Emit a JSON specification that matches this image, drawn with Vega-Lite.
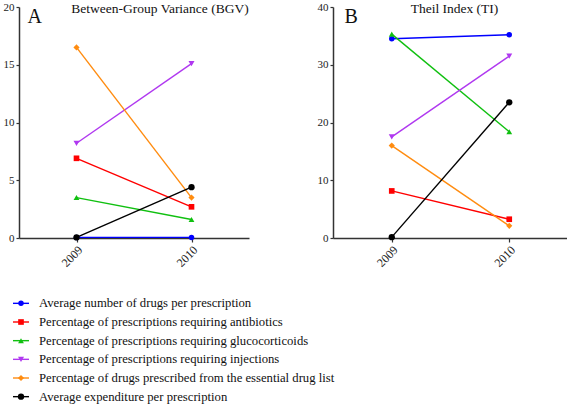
{
  "$schema": "https://vega.github.io/schema/vega-lite/v6.json",
  "padding": {"left": 3, "top": 1, "right": 0, "bottom": 0},
  "background": "white",
  "spacing": 25,
  "config": {
    "font": "Liberation Serif",
    "view": {"stroke": null},
    "axis": {
      "domainColor": "#333333",
      "domainWidth": 1.5,
      "tickColor": "#333333",
      "tickWidth": 1.2,
      "labelColor": "#222222",
      "labelFont": "Liberation Serif",
      "grid": false
    },
    "title": {"font": "Liberation Serif", "fontWeight": "normal", "color": "#111111"}
  },
  "datasets": {
    "points": [
      {"panel": "A", "series": "Average number of drugs per prescription", "year": "2009", "value": 0.05},
      {"panel": "A", "series": "Average number of drugs per prescription", "year": "2010", "value": 0.05},
      {"panel": "A", "series": "Percentage of prescriptions requiring antibiotics", "year": "2009", "value": 6.9},
      {"panel": "A", "series": "Percentage of prescriptions requiring antibiotics", "year": "2010", "value": 2.7},
      {"panel": "A", "series": "Percentage of prescriptions requiring glucocorticoids", "year": "2009", "value": 3.5},
      {"panel": "A", "series": "Percentage of prescriptions requiring glucocorticoids", "year": "2010", "value": 1.6},
      {"panel": "A", "series": "Percentage of prescriptions requiring injections", "year": "2009", "value": 8.2},
      {"panel": "A", "series": "Percentage of prescriptions requiring injections", "year": "2010", "value": 15.1},
      {"panel": "A", "series": "Percentage of drugs prescribed from the essential drug list", "year": "2009", "value": 16.5},
      {"panel": "A", "series": "Percentage of drugs prescribed from the essential drug list", "year": "2010", "value": 3.5},
      {"panel": "A", "series": "Average expenditure per prescription", "year": "2009", "value": 0.05},
      {"panel": "A", "series": "Average expenditure per prescription", "year": "2010", "value": 4.4},
      {"panel": "B", "series": "Average number of drugs per prescription", "year": "2009", "value": 34.5},
      {"panel": "B", "series": "Average number of drugs per prescription", "year": "2010", "value": 35.2},
      {"panel": "B", "series": "Percentage of prescriptions requiring antibiotics", "year": "2009", "value": 8.15},
      {"panel": "B", "series": "Percentage of prescriptions requiring antibiotics", "year": "2010", "value": 3.25},
      {"panel": "B", "series": "Percentage of prescriptions requiring glucocorticoids", "year": "2009", "value": 35.3},
      {"panel": "B", "series": "Percentage of prescriptions requiring glucocorticoids", "year": "2010", "value": 18.4},
      {"panel": "B", "series": "Percentage of prescriptions requiring injections", "year": "2009", "value": 17.5},
      {"panel": "B", "series": "Percentage of prescriptions requiring injections", "year": "2010", "value": 31.5},
      {"panel": "B", "series": "Percentage of drugs prescribed from the essential drug list", "year": "2009", "value": 16.0},
      {"panel": "B", "series": "Percentage of drugs prescribed from the essential drug list", "year": "2010", "value": 2.1},
      {"panel": "B", "series": "Average expenditure per prescription", "year": "2009", "value": 0.15},
      {"panel": "B", "series": "Average expenditure per prescription", "year": "2010", "value": 23.5}
    ],
    "legend": [
      {"series": "Average number of drugs per prescription"},
      {"series": "Percentage of prescriptions requiring antibiotics"},
      {"series": "Percentage of prescriptions requiring glucocorticoids"},
      {"series": "Percentage of prescriptions requiring injections"},
      {"series": "Percentage of drugs prescribed from the essential drug list"},
      {"series": "Average expenditure per prescription"}
    ]
  },
  "vconcat": [
    {
      "bounds": "flush",
      "spacing": 84,
      "hconcat": [
        {
          "width": 230,
          "height": 231,
          "data": {"name": "points"},
          "transform": [{"filter": "datum.panel === 'A'"}],
          "title": {"text": "Between-Group Variance (BGV)", "anchor": "middle", "dx": 26, "offset": -25, "fontSize": 13.5, "baseline": "alphabetic"},
          "encoding": {
            "x": {"field": "year", "type": "ordinal", "scale": {"type": "point", "padding": 0.5},
                  "axis": {"title": null, "labelAngle": -45, "labelFontSize": 12, "tickSize": 4, "labelPadding": 2}},
            "y": {"field": "value", "type": "quantitative", "scale": {"domain": [0, 20], "nice": false},
                  "axis": {"values": [0, 5, 10, 15, 20], "tickSize": 3, "labelFontSize": 11, "labelPadding": 2,
                           "title": "A", "titleAngle": 0, "titleX": 8, "titleY": 15, "titleAlign": "left", "titleBaseline": "alphabetic", "titleFontSize": 20, "titleFontWeight": "normal", "titleColor": "#111111"}},
            "color": {"field": "series", "type": "nominal", "legend": null,
                      "scale": {"domain": ["Average number of drugs per prescription", "Percentage of prescriptions requiring antibiotics", "Percentage of prescriptions requiring glucocorticoids", "Percentage of prescriptions requiring injections", "Percentage of drugs prescribed from the essential drug list", "Average expenditure per prescription"],
                                "range": ["#0000ff", "#ff0000", "#10c010", "#b038f0", "#ff8c10", "#000000"]}}
          },
          "layer": [
            {"mark": {"type": "line", "strokeWidth": 1.4}},
            {"mark": {"type": "point", "filled": true, "opacity": 1},
             "encoding": {
               "shape": {"field": "series", "type": "nominal", "legend": null,
                         "scale": {"domain": ["Average number of drugs per prescription", "Percentage of prescriptions requiring antibiotics", "Percentage of prescriptions requiring glucocorticoids", "Percentage of prescriptions requiring injections", "Percentage of drugs prescribed from the essential drug list", "Average expenditure per prescription"],
                                   "range": ["circle", "square", "triangle-up", "triangle-down", "diamond", "circle"]}},
               "size": {"field": "series", "type": "nominal", "legend": null,
                        "scale": {"domain": ["Average number of drugs per prescription", "Percentage of prescriptions requiring antibiotics", "Percentage of prescriptions requiring glucocorticoids", "Percentage of prescriptions requiring injections", "Percentage of drugs prescribed from the essential drug list", "Average expenditure per prescription"],
                                  "range": [30, 40, 32, 32, 22, 70]}}
             }}
          ]
        },
        {
          "width": 235,
          "height": 231,
          "data": {"name": "points"},
          "transform": [{"filter": "datum.panel === 'B'"}],
          "title": {"text": "Theil Index (TI)", "anchor": "middle", "dx": 4, "offset": -25, "fontSize": 13.5, "baseline": "alphabetic"},
          "encoding": {
            "x": {"field": "year", "type": "ordinal", "scale": {"type": "point", "padding": 0.5},
                  "axis": {"title": null, "labelAngle": -45, "labelFontSize": 12, "tickSize": 4, "labelPadding": 2}},
            "y": {"field": "value", "type": "quantitative", "scale": {"domain": [0, 40], "nice": false},
                  "axis": {"values": [0, 10, 20, 30, 40], "tickSize": 3, "labelFontSize": 11, "labelPadding": 2,
                           "title": "B", "titleAngle": 0, "titleX": 11, "titleY": 15, "titleAlign": "left", "titleBaseline": "alphabetic", "titleFontSize": 20, "titleFontWeight": "normal", "titleColor": "#111111"}},
            "color": {"field": "series", "type": "nominal", "legend": null,
                      "scale": {"domain": ["Average number of drugs per prescription", "Percentage of prescriptions requiring antibiotics", "Percentage of prescriptions requiring glucocorticoids", "Percentage of prescriptions requiring injections", "Percentage of drugs prescribed from the essential drug list", "Average expenditure per prescription"],
                                "range": ["#0000ff", "#ff0000", "#10c010", "#b038f0", "#ff8c10", "#000000"]}}
          },
          "layer": [
            {"mark": {"type": "line", "strokeWidth": 1.4}},
            {"mark": {"type": "point", "filled": true, "opacity": 1},
             "encoding": {
               "shape": {"field": "series", "type": "nominal", "legend": null,
                         "scale": {"domain": ["Average number of drugs per prescription", "Percentage of prescriptions requiring antibiotics", "Percentage of prescriptions requiring glucocorticoids", "Percentage of prescriptions requiring injections", "Percentage of drugs prescribed from the essential drug list", "Average expenditure per prescription"],
                                   "range": ["circle", "square", "triangle-up", "triangle-down", "diamond", "circle"]}},
               "size": {"field": "series", "type": "nominal", "legend": null,
                        "scale": {"domain": ["Average number of drugs per prescription", "Percentage of prescriptions requiring antibiotics", "Percentage of prescriptions requiring glucocorticoids", "Percentage of prescriptions requiring injections", "Percentage of drugs prescribed from the essential drug list", "Average expenditure per prescription"],
                                  "range": [30, 40, 32, 32, 22, 70]}}
             }}
          ]
        }
      ]
    },
    {
      "width": 300,
      "height": 112,
      "data": {"name": "legend"},
      "encoding": {
        "y": {"field": "series", "type": "nominal", "axis": null,
              "scale": {"type": "band", "paddingInner": 0, "paddingOuter": 0,
                        "domain": ["Average number of drugs per prescription", "Percentage of prescriptions requiring antibiotics", "Percentage of prescriptions requiring glucocorticoids", "Percentage of prescriptions requiring injections", "Percentage of drugs prescribed from the essential drug list", "Average expenditure per prescription"]}},
        "color": {"field": "series", "type": "nominal", "legend": null,
                  "scale": {"domain": ["Average number of drugs per prescription", "Percentage of prescriptions requiring antibiotics", "Percentage of prescriptions requiring glucocorticoids", "Percentage of prescriptions requiring injections", "Percentage of drugs prescribed from the essential drug list", "Average expenditure per prescription"],
                            "range": ["#0000ff", "#ff0000", "#10c010", "#b038f0", "#ff8c10", "#000000"]}}
      },
      "layer": [
        {"mark": {"type": "rule", "strokeWidth": 1.4},
         "encoding": {"x": {"datum": -6, "type": "quantitative", "scale": {"domain": [0, 300], "nice": false, "zero": false}, "axis": null},
                      "x2": {"datum": 10}}},
        {"mark": {"type": "point", "filled": true, "opacity": 1},
         "encoding": {
           "x": {"datum": 2, "type": "quantitative"},
           "shape": {"field": "series", "type": "nominal", "legend": null,
                     "scale": {"domain": ["Average number of drugs per prescription", "Percentage of prescriptions requiring antibiotics", "Percentage of prescriptions requiring glucocorticoids", "Percentage of prescriptions requiring injections", "Percentage of drugs prescribed from the essential drug list", "Average expenditure per prescription"],
                               "range": ["circle", "square", "triangle-up", "triangle-down", "diamond", "circle"]}},
           "size": {"field": "series", "type": "nominal", "legend": null,
                    "scale": {"domain": ["Average number of drugs per prescription", "Percentage of prescriptions requiring antibiotics", "Percentage of prescriptions requiring glucocorticoids", "Percentage of prescriptions requiring injections", "Percentage of drugs prescribed from the essential drug list", "Average expenditure per prescription"],
                              "range": [30, 40, 32, 32, 22, 70]}}
         }},
        {"mark": {"type": "text", "align": "left", "baseline": "middle", "fontSize": 12.7, "font": "Liberation Serif"},
         "encoding": {
           "x": {"datum": 20, "type": "quantitative"},
           "text": {"field": "series"},
           "color": {"value": "#111111"}
         }}
      ]
    }
  ]
}
